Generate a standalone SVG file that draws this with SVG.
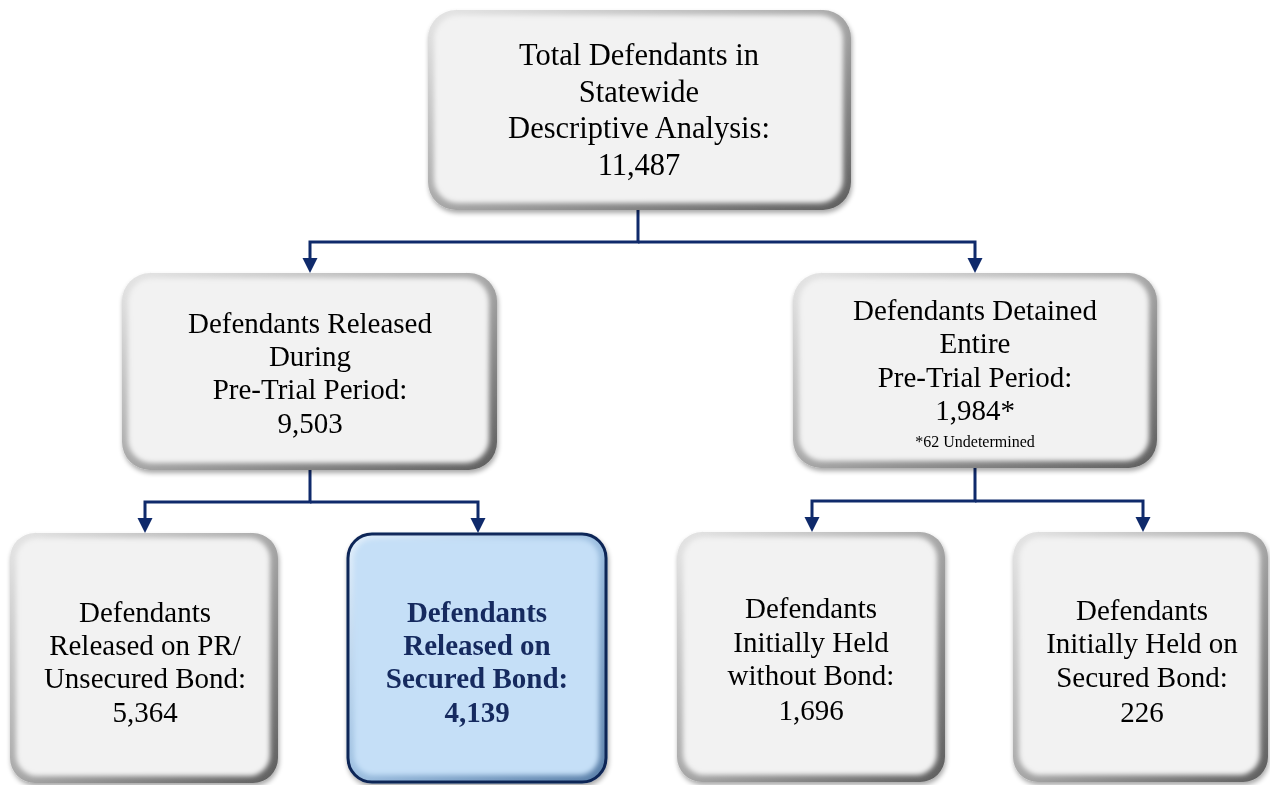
<svg xmlns="http://www.w3.org/2000/svg" xmlns:xlink="http://www.w3.org/1999/xlink" width="1270" height="785" viewBox="0 0 1270 785">
<style>
  .t { font-family: "Liberation Serif", "Times New Roman", serif; font-size: 29px; fill: #000; text-anchor: middle; }
  .big { font-size: 30.5px; }
  .small { font-size: 16px; }
  .hl { font-weight: bold; fill: #14295e; }
  .conn { fill: none; stroke: #0f2a6b; stroke-width: 3; }
  .head { fill: #0f2a6b; }
  .edge { fill: url(#edgeGrad); }
  .face { fill: #f2f2f2; filter: url(#soft); }
  .bedge { fill: url(#blueEdge); stroke: #0c2557; stroke-width: 3; }
  .bface { fill: #c5dff7; filter: url(#soft); }
</style>
<defs>
  <linearGradient id="edgeGrad" x1="0" y1="0" x2="1" y2="1">
    <stop offset="0" stop-color="#e6e6e6"/>
    <stop offset="0.5" stop-color="#a8a8a8"/>
    <stop offset="1" stop-color="#5e5e5e"/>
  </linearGradient>
  <linearGradient id="blueEdge" x1="0" y1="0" x2="1" y2="1">
    <stop offset="0" stop-color="#e3f0fc"/>
    <stop offset="0.5" stop-color="#9dbfe0"/>
    <stop offset="1" stop-color="#5a7fa8"/>
  </linearGradient>
  <filter id="soft" x="-5%" y="-5%" width="110%" height="110%">
    <feGaussianBlur stdDeviation="2.5"/>
  </filter>
  <filter id="shadow" x="-10%" y="-10%" width="120%" height="125%">
    <feGaussianBlur in="SourceAlpha" stdDeviation="2.5"/>
    <feOffset dx="1" dy="3" result="b"/>
    <feComponentTransfer><feFuncA type="linear" slope="0.35"/></feComponentTransfer>
    <feMerge><feMergeNode/><feMergeNode in="SourceGraphic"/></feMerge>
  </filter>
  <path id="ah" class="head" d="M-7.5,-15 L7.5,-15 L0,0 z"/>
</defs>

<g id="connectors">
  <path class="conn" d="M638,210 V242 H310 V262"/>
  <path class="conn" d="M638,242 H975 V262"/>
  <path class="conn" d="M310,470 V502 H145 V522"/>
  <path class="conn" d="M310,502 H478 V522"/>
  <path class="conn" d="M975,468 V501 H812 V521"/>
  <path class="conn" d="M975,501 H1143 V521"/>
  <use xlink:href="#ah" href="#ah" transform="translate(310,273)"/>
  <use xlink:href="#ah" href="#ah" transform="translate(975,273)"/>
  <use xlink:href="#ah" href="#ah" transform="translate(145,533)"/>
  <use xlink:href="#ah" href="#ah" transform="translate(478,533)"/>
  <use xlink:href="#ah" href="#ah" transform="translate(812,532)"/>
  <use xlink:href="#ah" href="#ah" transform="translate(1143,532)"/>
</g>

<g id="total" filter="url(#shadow)">
  <rect class="edge" x="428" y="10" width="423" height="200" rx="28"/>
  <rect class="face" x="434" y="15" width="409" height="188" rx="24"/>
  <text class="t big" x="639" y="65">Total Defendants in</text>
  <text class="t big" x="639" y="102">Statewide</text>
  <text class="t big" x="639" y="138">Descriptive Analysis:</text>
  <text class="t big" x="639" y="175">11,487</text>
</g>

<g id="released" filter="url(#shadow)">
  <rect class="edge" x="122" y="273" width="375" height="197" rx="28"/>
  <rect class="face" x="128" y="278" width="361" height="185" rx="24"/>
  <text class="t" x="310" y="333">Defendants Released</text>
  <text class="t" x="310" y="366">During</text>
  <text class="t" x="310" y="399">Pre-Trial Period:</text>
  <text class="t" x="310" y="433">9,503</text>
</g>

<g id="detained" filter="url(#shadow)">
  <rect class="edge" x="793" y="273" width="364" height="195" rx="28"/>
  <rect class="face" x="799" y="278" width="350" height="183" rx="24"/>
  <text class="t" x="975" y="320">Defendants Detained</text>
  <text class="t" x="975" y="353">Entire</text>
  <text class="t" x="975" y="387">Pre-Trial Period:</text>
  <text class="t" x="975" y="420">1,984*</text>
  <text class="t small" x="975" y="447">*62 Undetermined</text>
</g>

<g id="pr-unsecured" filter="url(#shadow)">
  <rect class="edge" x="10" y="533" width="268" height="250" rx="25"/>
  <rect class="face" x="16" y="538" width="254" height="238" rx="21"/>
  <text class="t" x="145" y="622">Defendants</text>
  <text class="t" x="145" y="655">Released on PR/</text>
  <text class="t" x="145" y="688">Unsecured Bond:</text>
  <text class="t" x="145" y="722">5,364</text>
</g>

<g id="secured" filter="url(#shadow)">
  <rect class="bedge" x="348" y="534" width="258" height="248" rx="24"/>
  <rect class="bface" x="354" y="539" width="245" height="236" rx="20"/>
  <text class="t hl" x="477" y="622">Defendants</text>
  <text class="t hl" x="477" y="655">Released on</text>
  <text class="t hl" x="477" y="688">Secured Bond:</text>
  <text class="t hl" x="477" y="722">4,139</text>
</g>

<g id="held-without" filter="url(#shadow)">
  <rect class="edge" x="677" y="532" width="268" height="250" rx="25"/>
  <rect class="face" x="683" y="537" width="254" height="238" rx="21"/>
  <text class="t" x="811" y="618">Defendants</text>
  <text class="t" x="811" y="652">Initially Held</text>
  <text class="t" x="811" y="685">without Bond:</text>
  <text class="t" x="811" y="720">1,696</text>
</g>

<g id="held-secured" filter="url(#shadow)">
  <rect class="edge" x="1013" y="532" width="255" height="250" rx="25"/>
  <rect class="face" x="1019" y="537" width="241" height="238" rx="21"/>
  <text class="t" x="1142" y="620">Defendants</text>
  <text class="t" x="1142" y="653">Initially Held on</text>
  <text class="t" x="1142" y="687">Secured Bond:</text>
  <text class="t" x="1142" y="722">226</text>
</g>
</svg>
